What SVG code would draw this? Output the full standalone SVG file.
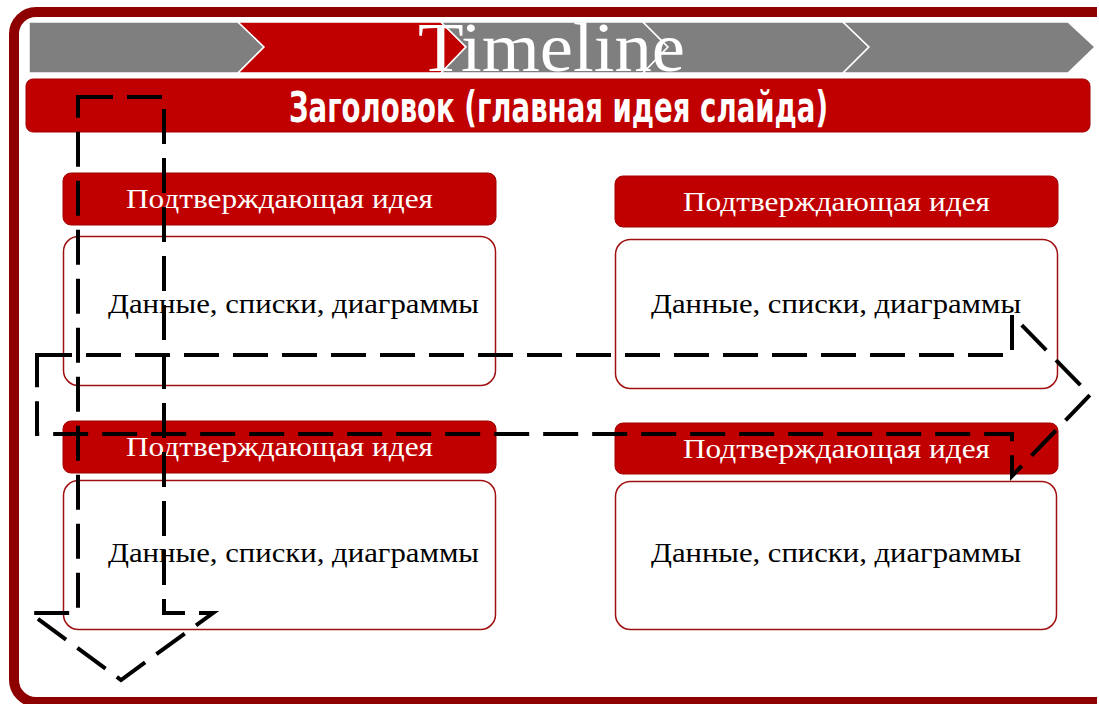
<svg xmlns="http://www.w3.org/2000/svg" width="1099" height="704" viewBox="0 0 1099 704">
<style>
.chev-g{fill:#7F7F7F;stroke:#FFFFFF;stroke-width:1.5}
.chev-r{fill:#C00000;stroke:#FFFFFF;stroke-width:1.5}
.head{fill:#C00000;stroke:#A00000;stroke-width:1}
.sub{fill:#C00000;stroke:#A00000;stroke-width:1}
.card{fill:#FFFFFF;stroke:#A01010;stroke-width:1.5}
.subtxt{font-family:"Liberation Serif","DejaVu Serif",serif;font-size:27px;fill:#FFFFFF}
.cardtxt{font-family:"Liberation Serif","DejaVu Serif",serif;font-size:27px;fill:#000000}
.arrow{fill:none;stroke:#000000;stroke-width:4;stroke-dasharray:35 14}
</style>
<rect width="1099" height="704" fill="#FFFFFF"/>
<g id="frame">
<path d="M1097,12 H36 A22,22 0 0 0 14,34 V680 A22,22 0 0 0 36,702 H1097" fill="none" stroke="#8E0000" stroke-width="10"/>
</g>
<g id="timeline">
<polygon class="chev-g" points="29,22 238,22 264,47 238,73 29,73"/>
<polygon class="chev-r" points="238,22 441,22 466,47 441,73 238,73 264,47"/>
<polygon class="chev-g" points="441,22 643,22 668,47 643,73 441,73 466,47"/>
<polygon class="chev-g" points="643,22 843,22 869,47 843,73 643,73 668,47"/>
<polygon class="chev-g" points="843,22 1068,22 1095,47 1068,73 843,73 869,47"/>
<text x="418" y="71" font-family="Liberation Serif, DejaVu Serif, serif" font-size="70" fill="#FFFFFF" textLength="267" lengthAdjust="spacingAndGlyphs">Timeline</text>
</g>
<g id="header">
<rect class="head" x="26" y="79" width="1064" height="53" rx="7"/>
<text x="289" y="122" font-family="Liberation Sans Narrow, DejaVu Sans Condensed, Liberation Sans, sans-serif" font-weight="bold" font-size="42" fill="#FFFFFF" textLength="539" lengthAdjust="spacingAndGlyphs">Заголовок (главная идея слайда)</text>
</g>
<g id="idea1">
<rect class="sub" x="63" y="173" width="433" height="52" rx="8"/>
<text class="subtxt" x="126" y="208" textLength="307" lengthAdjust="spacingAndGlyphs">Подтверждающая идея</text>
</g>
<g id="data1">
<rect class="card" x="63.5" y="236.5" width="432" height="149" rx="15"/>
<text class="cardtxt" x="108" y="313" textLength="371" lengthAdjust="spacingAndGlyphs">Данные, списки, диаграммы</text>
</g>
<g id="idea2">
<rect class="sub" x="615" y="176" width="443" height="51" rx="8"/>
<text class="subtxt" x="683" y="211" textLength="307" lengthAdjust="spacingAndGlyphs">Подтверждающая идея</text>
</g>
<g id="data2">
<rect class="card" x="615.5" y="239.5" width="442" height="149" rx="15"/>
<text class="cardtxt" x="651" y="313" textLength="370" lengthAdjust="spacingAndGlyphs">Данные, списки, диаграммы</text>
</g>
<g id="idea3">
<rect class="sub" x="63" y="421" width="433" height="52" rx="8"/>
<text class="subtxt" x="126" y="456" textLength="307" lengthAdjust="spacingAndGlyphs">Подтверждающая идея</text>
</g>
<g id="data3">
<rect class="card" x="63.5" y="480.5" width="432" height="149" rx="15"/>
<text class="cardtxt" x="108" y="562" textLength="371" lengthAdjust="spacingAndGlyphs">Данные, списки, диаграммы</text>
</g>
<g id="idea4">
<rect class="sub" x="615" y="423" width="443" height="51" rx="8"/>
<text class="subtxt" x="683" y="458" textLength="307" lengthAdjust="spacingAndGlyphs">Подтверждающая идея</text>
</g>
<g id="data4">
<rect class="card" x="615.5" y="481.5" width="441" height="148" rx="15"/>
<text class="cardtxt" x="651" y="562" textLength="370" lengthAdjust="spacingAndGlyphs">Данные, списки, диаграммы</text>
</g>
<g id="connectors">
<path class="arrow" d="M78,97 H164 V613 H213 L121,680 L30,613 H78 Z"/>
<path class="arrow" d="M37,355 H1012 V315 L1090,395 L1012,476 V434 H37 Z"/>
</g>
</svg>
